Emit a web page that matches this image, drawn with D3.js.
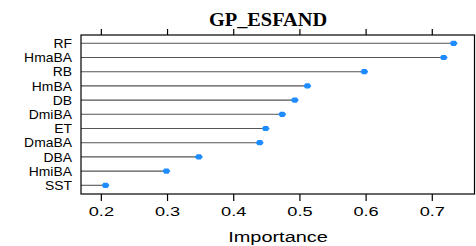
<!DOCTYPE html>
<html>
<head>
<meta charset="utf-8">
<script src="https://cdn.jsdelivr.net/npm/d3@7"></script>
<style>
  body { margin: 0; background: #fff; }
  svg { display: block; }
</style>
</head>
<body>
<div id="chart"></div>
<script>
// variable importance dot chart

let svgWidth = 476;
let svgHeight = 246;

let margin = { top: 35, right: 1, bottom: 52, left: 81 };

let width = svgWidth - margin.left - margin.right;
let height = svgHeight - margin.top - margin.bottom;

// data, top row first
let variables = ['RF', 'HmaBA', 'RB', 'HmBA', 'DB', 'DmiBA', 'ET', 'DmaBA', 'DBA', 'HmiBA', 'SST'];
let importance = [0.733, 0.718, 0.598, 0.512, 0.493, 0.474, 0.449, 0.440, 0.348, 0.299, 0.207];
let xTicks = [0.2, 0.3, 0.4, 0.5, 0.6, 0.7];

let rows = variables.map((v, i) => ({ name: v, value: importance[i] }));

let sansFont = 'Liberation Sans, Arial, sans-serif';

let svg = d3.select('#chart').append('svg')
  .attr('width', svgWidth)
  .attr('height', svgHeight);

let chartGroup = svg.append('g')
  .attr('transform', `translate(${margin.left}, ${margin.top})`);

// scales
let xScale = d3.scaleLinear()
  .domain([0.17, 0.7653])
  .range([0, width]);

let yScale = d3.scalePoint()
  .domain(variables)
  .range([8.3, 150.3]);

// lines from the left edge to the point
chartGroup.selectAll('.stem')
  .data(rows)
  .enter()
  .append('line')
  .attr('x1', 0)
  .attr('x2', d => xScale(d.value))
  .attr('y1', d => yScale(d.name))
  .attr('y2', d => yScale(d.name))
  .attr('stroke', '#555')
  .attr('stroke-width', 1.1);

// diamond points
chartGroup.selectAll('.pt')
  .data(rows)
  .enter()
  .append('path')
  .attr('transform', d => `translate(${xScale(d.value)}, ${yScale(d.name)})`)
  .attr('d', 'M-4,0 L-2,-2.6 L2,-2.6 L4,0 L2,2.6 L-2,2.6 Z')
  .attr('fill', '#1E8CFF');

// panel box
chartGroup.append('rect')
  .attr('x', 0)
  .attr('y', 0)
  .attr('width', width - 0.5)
  .attr('height', height)
  .attr('fill', 'none')
  .attr('stroke', '#000')
  .attr('stroke-width', 1.2);

// axes (bottom with labels, top ticks only)
let bottomAxis = d3.axisBottom(xScale)
  .tickValues(xTicks)
  .tickFormat(d3.format('.1f'))
  .tickSizeOuter(0)
  .tickSizeInner(7)
  .tickPadding(6);

let xAxis = chartGroup.append('g')
  .attr('transform', `translate(0, ${height})`)
  .call(bottomAxis);

xAxis.select('.domain').remove();
xAxis.selectAll('line').attr('stroke', '#000').attr('stroke-width', 1.2);
// the reference text is drawn horizontally stretched
xAxis.selectAll('text')
  .attr('font-family', sansFont)
  .attr('font-size', '13px')
  .attr('fill', '#000')
  .attr('transform', 'translate(0, 13) scale(1.4, 1)')
  .attr('y', 0)
  .attr('dy', '0.71em');

let topAxis = d3.axisTop(xScale)
  .tickValues(xTicks)
  .tickFormat('')
  .tickSizeOuter(0)
  .tickSizeInner(6);

let xAxisTop = chartGroup.append('g').call(topAxis);
xAxisTop.select('.domain').remove();
xAxisTop.selectAll('line').attr('stroke', '#000').attr('stroke-width', 1.2);

// y labels
chartGroup.selectAll('.ylab')
  .data(variables)
  .enter()
  .append('text')
  .attr('transform', d => `translate(-9, ${yScale(d)}) scale(1.07, 1)`)
  .attr('dy', '0.36em')
  .attr('text-anchor', 'end')
  .attr('font-family', sansFont)
  .attr('font-size', '13px')
  .text(d => d);

// x label
svg.append('text')
  .attr('transform', `translate(${margin.left + width / 2}, 242) scale(1.33, 1)`)
  .attr('text-anchor', 'middle')
  .attr('font-family', sansFont)
  .attr('font-size', '15px')
  .text('Importance');

// title
svg.append('text')
  .attr('transform', 'translate(268, 26) scale(1.13, 1)')
  .attr('text-anchor', 'middle')
  .attr('font-family', 'Liberation Serif, Times New Roman, serif')
  .attr('font-weight', 'bold')
  .attr('font-size', '18px')
  .text('GP_ESFAND');
</script>
</body>
</html>
